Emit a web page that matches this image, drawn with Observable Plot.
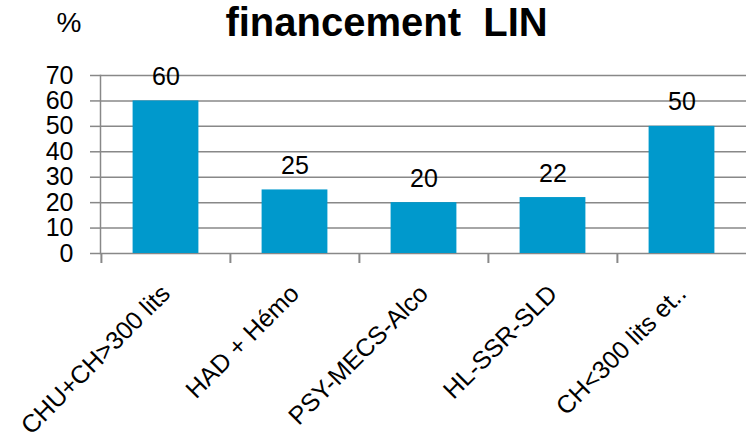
<!DOCTYPE html>
<html><head><meta charset="utf-8">
<script src="https://cdn.jsdelivr.net/npm/d3@7"></script>
<script src="https://cdn.jsdelivr.net/npm/@observablehq/plot@0.6"></script>
<style>body{margin:0;background:#fff;}</style>
</head><body><div id="chart"></div>
<script>
const categories = ["CHU+CH>300 lits", "HAD + Hémo", "PSY-MECS-Alco", "HL-SSR-SLD", "CH<300 lits et.."];
const values = [60, 25, 20, 22, 50];
const yTicks = [0, 10, 20, 30, 40, 50, 60, 70];
const title = "financement  LIN";
const unit = "%";

const data = categories.map((c, i) => ({cat: c, value: values[i]}));
const W = 746, H = 443, mL = 100, mR = 0, mT = 75, mB = 190;
const step = (W - mL - mR) / categories.length;
const barW = 66;
const inset = (step - barW) / 2;
const grey = "#888";
const yMin = -3.94; // 10px below the baseline, for the category boundary ticks

const chart = Plot.plot({
  width: W, height: H,
  marginLeft: mL, marginRight: mR, marginTop: mT, marginBottom: mB,
  style: {fontFamily: "'Liberation Sans', Arial, sans-serif", background: "#fff", overflow: "visible", color: "#000"},
  x: {domain: categories, padding: 0, label: null},
  y: {domain: [0, 70], label: null},
  marks: [
    Plot.gridY(yTicks, {stroke: grey, strokeOpacity: 1, strokeWidth: 1.5}),
    Plot.axisY(yTicks, {tickSize: 10, tickPadding: 17, stroke: grey, strokeWidth: 1.5, fontSize: 25, fill: "#000", label: null}),
    Plot.frame({anchor: "left", stroke: grey, strokeWidth: 1.5}),
    Plot.ruleX(categories, {x: d => d, dx: -step / 2, y1: 0, y2: yMin, stroke: grey, strokeWidth: 2}),
    Plot.barY(data, {x: "cat", y: "value", fill: "#0099CC", insetLeft: inset, insetRight: inset}),
    Plot.text(data, {x: "cat", y: "value", text: d => String(d.value), dy: -24, lineAnchor: "middle", fontSize: 25, fill: "#000"}),
    Plot.axisX({tickSize: 0, tickRotate: -45, tickPadding: 36, fontSize: 25, fill: "#000", label: null}),
    Plot.text([title], {frameAnchor: "top", dx: -37, dy: -52, lineAnchor: "middle", fontSize: 40, fontWeight: "bold", fill: "#000"}),
    Plot.text([unit], {frameAnchor: "top-left", dx: -44, dy: -52, lineAnchor: "middle", fontSize: 28, fill: "#000"})
  ]
});
document.getElementById("chart").append(chart);
</script>
</body></html>
